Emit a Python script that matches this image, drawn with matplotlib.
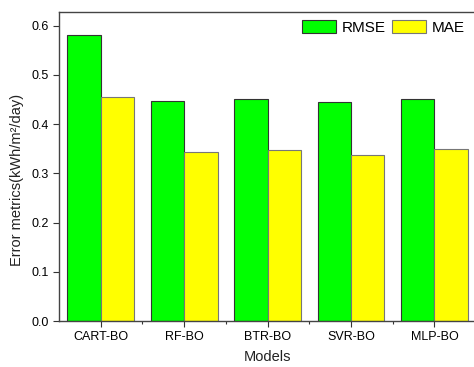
import matplotlib
matplotlib.use('Agg')
import matplotlib.pyplot as plt
import numpy as np
from matplotlib.ticker import FixedLocator

plt.rcParams['font.family'] = ['Liberation Sans', 'DejaVu Sans']

models = ['CART-BO', 'RF-BO', 'BTR-BO', 'SVR-BO', 'MLP-BO']
rmse = [0.581, 0.448, 0.451, 0.446, 0.452]
mae = [0.455, 0.344, 0.348, 0.338, 0.350]

fig = plt.figure(figsize=(4.74, 3.67), dpi=100)
ax = fig.add_axes([0.1245, 0.1253, 0.880, 0.842])

x = np.arange(1, len(models) + 1)
w = 0.4
ax.bar(x - w/2, rmse, w, color='#00ff00', edgecolor='#333333', linewidth=0.8, label='RMSE')
ax.bar(x + w/2, mae, w, color='#ffff00', edgecolor='#777777', linewidth=0.8, label='MAE')

ax.set_xlim(0.5, 5.5)
ax.set_ylim(0, 0.628)
ax.set_xticks(x)
ax.set_xticklabels(models, fontsize=9)
ax.xaxis.set_minor_locator(FixedLocator(x[:-1] + 0.5))
ax.set_yticks(np.arange(0, 0.61, 0.1))
ax.set_yticklabels(['%.1f' % v for v in np.arange(0, 0.61, 0.1)], fontsize=9)
ax.tick_params(axis='both', which='major', direction='out', length=4, width=0.8, color='#333333')
ax.tick_params(axis='x', which='minor', direction='out', length=2.5, width=0.8, color='#333333')
for s in ax.spines.values():
    s.set_color('#444444')
    s.set_linewidth(1.0)

ax.set_xlabel('Models', fontsize=10.5, color='#222222', labelpad=5)
ax.set_ylabel('Error metrics(kWh/m²/day)', fontsize=10.5, color='#222222')
ax.yaxis.set_label_coords(-0.085, 0.455)

ax.legend(loc='upper right', ncol=2, frameon=False, fontsize=11,
          handlelength=2.2, handleheight=1.0, columnspacing=0.4,
          handletextpad=0.4, borderaxespad=0.2, bbox_to_anchor=(0.995, 1.005))

fig.savefig('out.png', dpi=100)
